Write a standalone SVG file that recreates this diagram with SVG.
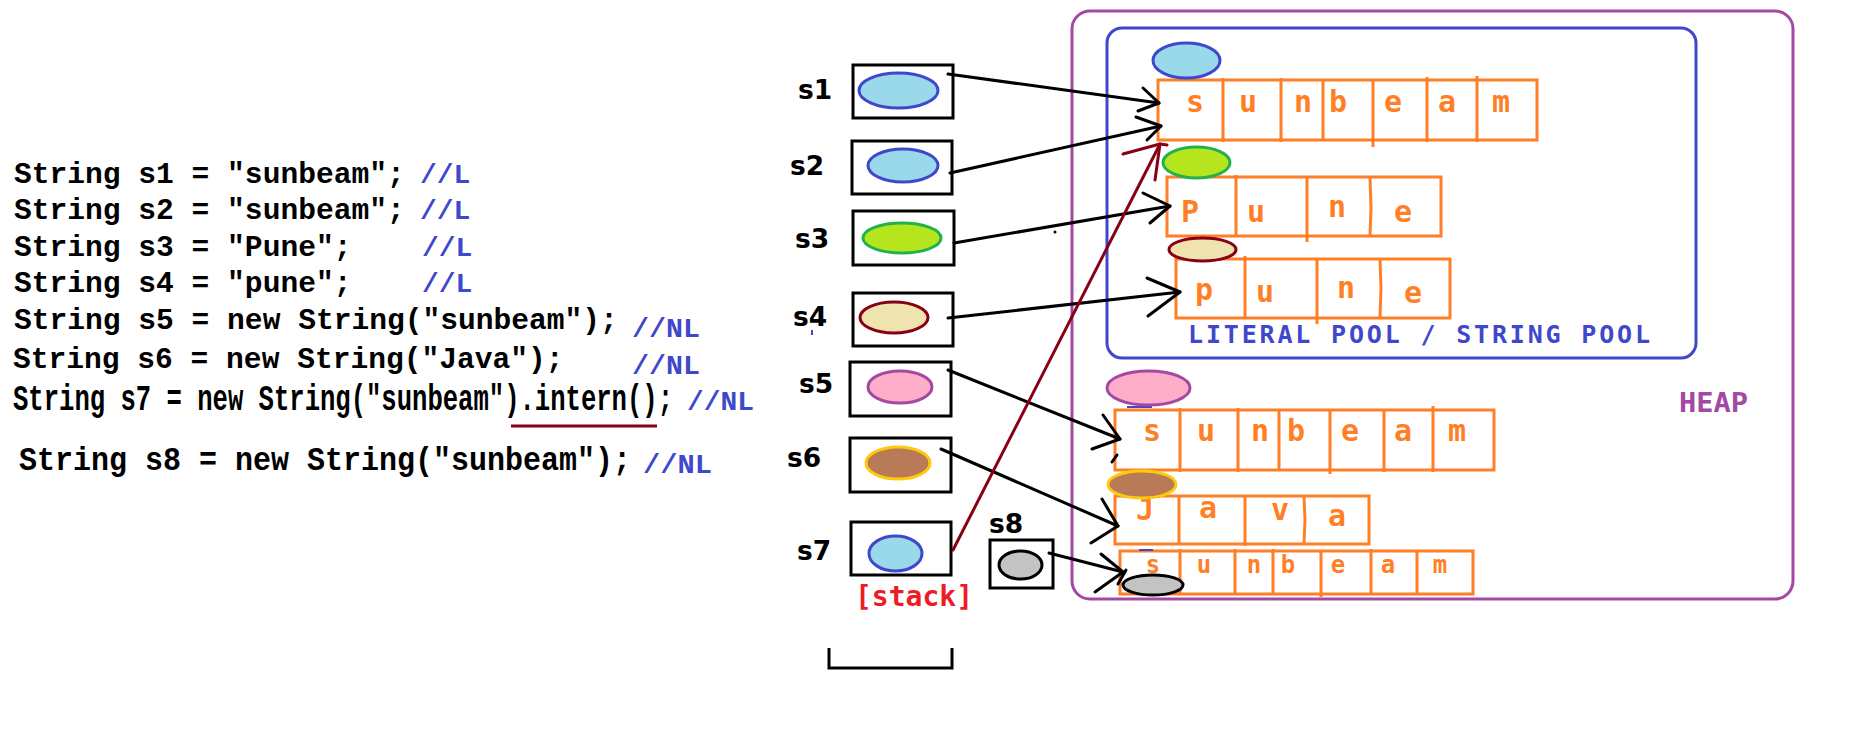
<svg xmlns="http://www.w3.org/2000/svg" width="1852" height="743" viewBox="0 0 1852 743">
  <style>
    .code { font-family: "Liberation Mono", "DejaVu Sans Mono", monospace; font-weight: bold; font-size: 29.6px; fill: #000; }
    .cmt { font-family: "Liberation Mono", "DejaVu Sans Mono", monospace; font-weight: bold; font-size: 28px; fill: #3F48CC; }
    .lbl { font-family: "DejaVu Sans", sans-serif; font-weight: bold; font-size: 26.5px; fill: #000; }
    .slot { fill: none; stroke: #000; stroke-width: 3; }
    .arr { fill: none; stroke: #FF7F27; stroke-width: 3; }
    .ch { font-family: "DejaVu Sans Mono", monospace; font-weight: bold; font-size: 30px; fill: #FF7F27; text-anchor: middle; }
    .ch-sm { font-size: 24px; }
    .ref-blue { fill: #99D9EA; stroke: #3F48CC; stroke-width: 3; }
    .ref-green { fill: #B5E61D; stroke: #22B14C; stroke-width: 3; }
    .ref-beige { fill: #EFE4B0; stroke: #880015; stroke-width: 3; }
    .ref-pink { fill: #FFAEC9; stroke: #A349A4; stroke-width: 3; }
    .ref-brown { fill: #B97A57; stroke: #FFC90E; stroke-width: 3; }
    .ref-gray { fill: #C3C3C3; stroke: #000; stroke-width: 3; }
    .link { fill: none; stroke: #000; stroke-width: 3; stroke-linecap: round; stroke-linejoin: round; }
    .link-red { fill: none; stroke: #880015; stroke-width: 3; stroke-linecap: round; }
    .tick { fill: none; stroke: #3F48CC; stroke-width: 2; }
  </style>

  <rect width="1852" height="743" fill="#fff"/>

  <!-- Java source -->
  <g id="code">
    <text class="code" x="14" y="183">String s1 = "sunbeam";</text>
    <text class="cmt" x="420" y="183">//L</text>
    <text class="code" x="14" y="219">String s2 = "sunbeam";</text>
    <text class="cmt" x="420" y="219">//L</text>
    <text class="code" x="14" y="256">String s3 = "Pune";</text>
    <text class="cmt" x="422" y="256">//L</text>
    <text class="code" x="14" y="292">String s4 = "pune";</text>
    <text class="cmt" x="422" y="292">//L</text>
    <text class="code" x="14" y="329">String s5 = new String("sunbeam");</text>
    <text class="cmt" x="632" y="337" textLength="68" lengthAdjust="spacingAndGlyphs">//NL</text>
    <text class="code" x="13" y="368">String s6 = new String("Java");</text>
    <text class="cmt" x="632" y="374" textLength="68" lengthAdjust="spacingAndGlyphs">//NL</text>
    <text class="code" x="13" y="410" style="font-size:36px" textLength="660" lengthAdjust="spacingAndGlyphs">String s7 = new String("sunbeam").intern();</text>
    <text class="cmt" x="687" y="410" textLength="67" lengthAdjust="spacingAndGlyphs">//NL</text>
    <line x1="511" y1="426" x2="657" y2="426" stroke="#880015" stroke-width="3"/>
    <text class="code" x="19" y="470" style="font-size:33px" textLength="612" lengthAdjust="spacingAndGlyphs">String s8 = new String("sunbeam");</text>
    <text class="cmt" x="643" y="473" textLength="69" lengthAdjust="spacingAndGlyphs">//NL</text>
  </g>

  <!-- heap area and string pool -->
  <g id="heap">
    <rect x="1072" y="11" width="721" height="588" rx="18" fill="none" stroke="#A349A4" stroke-width="3"/>
    <text x="1679" y="412" font-family="DejaVu Sans Mono, monospace" font-weight="bold" font-size="27" fill="#A349A4" textLength="69" lengthAdjust="spacingAndGlyphs">HEAP</text>
  </g>
  <g id="string-pool">
    <rect x="1107" y="28" width="589" height="330" rx="15" fill="none" stroke="#3F48CC" stroke-width="3"/>
    <text x="1188" y="343" font-family="DejaVu Sans Mono, monospace" font-weight="bold" font-size="25" fill="#3F48CC" textLength="462" lengthAdjust="spacing">LITERAL POOL / STRING POOL</text>
  </g>

  <!-- stack slots -->
  <g id="stack">
    <text x="855" y="606" font-family="DejaVu Sans Mono, monospace" font-weight="bold" font-size="28" fill="#ED1C24" textLength="118" lengthAdjust="spacingAndGlyphs">[stack]</text>
    <polyline points="829,648 829,668 952,668 952,648" fill="none" stroke="#000" stroke-width="3"/>
  </g>
  <g id="s1">
    <text class="lbl" x="798" y="99">s1</text>
    <rect class="slot" x="853" y="65" width="100" height="53" stroke-width="2.6"/>
    <ellipse class="ref-blue" cx="898.5" cy="90.5" rx="39.5" ry="17.5"/>
  </g>
  <g id="s2">
    <text class="lbl" x="790" y="175">s2</text>
    <rect class="slot" x="852" y="141" width="100" height="53" stroke-width="3.2"/>
    <ellipse class="ref-blue" cx="903" cy="165.5" rx="35" ry="16.5"/>
  </g>
  <g id="s3">
    <text class="lbl" x="795" y="248">s3</text>
    <rect class="slot" x="853" y="211" width="101" height="54"/>
    <ellipse class="ref-green" cx="902" cy="238" rx="39" ry="15"/>
  </g>
  <g id="s4">
    <text class="lbl" x="793" y="326">s4</text>
    <line class="tick" x1="812" y1="330" x2="812" y2="335"/>
    <rect class="slot" x="853" y="293" width="100" height="53" stroke-width="2.6"/>
    <ellipse class="ref-beige" cx="894" cy="317.5" rx="34" ry="15.5"/>
  </g>
  <g id="s5">
    <text class="lbl" x="799" y="393">s5</text>
    <rect class="slot" x="850" y="362" width="101" height="54" stroke-width="3.4"/>
    <ellipse class="ref-pink" cx="900" cy="387" rx="32" ry="16"/>
  </g>
  <g id="s6">
    <text class="lbl" x="787" y="467">s6</text>
    <rect class="slot" x="850" y="438" width="101" height="54" stroke-width="3.4"/>
    <ellipse class="ref-brown" cx="898" cy="463" rx="32" ry="16"/>
  </g>
  <g id="s7">
    <text class="lbl" x="797" y="560">s7</text>
    <rect class="slot" x="851" y="522" width="100" height="53"/>
    <ellipse class="ref-blue" cx="895.5" cy="553.5" rx="26.5" ry="17.5"/>
  </g>
  <g id="s8">
    <text class="lbl" x="989" y="533">s8</text>
    <rect class="slot" x="990" y="540" width="63" height="48" stroke-width="3.6"/>
    <ellipse class="ref-gray" cx="1020.5" cy="565" rx="21.5" ry="14"/>
  </g>

  <!-- pool: "sunbeam" -->
  <g id="pool-sunbeam">
    <rect class="arr" x="1158" y="80" width="379" height="60"/>
    <path class="arr" d="M1223 78V142 M1281 78V142 M1323 80V140 M1373 80V147 M1427 77V142 M1477 76V142"/>
    <text class="ch" y="112"><tspan x="1195">s</tspan><tspan x="1248">u</tspan><tspan x="1303">n</tspan><tspan x="1338">b</tspan><tspan x="1393">e</tspan><tspan x="1447">a</tspan><tspan x="1501">m</tspan></text>
    <ellipse class="ref-blue" cx="1186.5" cy="60.5" rx="33.5" ry="17.5"/>
  </g>
  <!-- pool: "Pune" -->
  <g id="pool-Pune">
    <rect class="arr" x="1167" y="177" width="274" height="59"/>
    <path class="arr" d="M1236 175V236 M1307 177V242 M1370 177L1371 208L1370 236"/>
    <text class="ch"><tspan x="1190" y="222">P</tspan><tspan x="1256" y="222">u</tspan><tspan x="1337" y="217">n</tspan><tspan x="1403" y="222">e</tspan></text>
    <ellipse class="ref-green" cx="1196.5" cy="162.5" rx="33.5" ry="15.5"/>
  </g>
  <!-- pool: "pune" -->
  <g id="pool-pune">
    <rect class="arr" x="1176" y="259" width="274" height="59"/>
    <path class="arr" d="M1245 256V318 M1317 259V324 M1380 259L1381 288L1380 318"/>
    <text class="ch"><tspan x="1204" y="300">p</tspan><tspan x="1265" y="302">u</tspan><tspan x="1346" y="298">n</tspan><tspan x="1413" y="303">e</tspan></text>
    <path d="M1184 256Q1203 264 1222 256" fill="none" stroke="#22B14C" stroke-width="3"/>
    <ellipse class="ref-beige" cx="1202.5" cy="249.5" rx="33.5" ry="11.5"/>
  </g>

  <!-- heap: new String("sunbeam") -->
  <g id="heap-sunbeam">
    <rect class="arr" x="1115" y="410" width="379" height="60"/>
    <path class="arr" d="M1180 408V472 M1238 408V472 M1279 410V470 M1330 410V474 M1384 410V472 M1433 406V472"/>
    <text class="ch" y="441"><tspan x="1152">s</tspan><tspan x="1206">u</tspan><tspan x="1260">n</tspan><tspan x="1296">b</tspan><tspan x="1350">e</tspan><tspan x="1403">a</tspan><tspan x="1457">m</tspan></text>
    <line class="tick" x1="1127" y1="407" x2="1152" y2="407"/>
    <ellipse class="ref-pink" cx="1148.5" cy="388" rx="41.5" ry="17"/>
  </g>
  <!-- heap: new String("Java") -->
  <g id="heap-Java">
    <rect class="arr" x="1115" y="496" width="254" height="48"/>
    <path class="arr" d="M1179 496V544 M1245 496V546 M1304 496L1305 520L1304 544"/>
    <text class="ch"><tspan x="1145" y="520">J</tspan><tspan x="1208" y="518">a</tspan><tspan x="1280" y="520">v</tspan><tspan x="1337" y="526">a</tspan></text>
    <line x1="1124" y1="496" x2="1160" y2="496" stroke="#880015" stroke-width="3"/>
    <ellipse class="ref-brown" cx="1142" cy="484.5" rx="34" ry="13.5"/>
  </g>
  <!-- heap: s8's "sunbeam" -->
  <g id="heap-sunbeam-2">
    <rect class="arr" x="1120" y="551" width="353" height="43"/>
    <path class="arr" d="M1180 549V594 M1235 549V594 M1273 549V594 M1321 551V597 M1371 549V594 M1417 551V594"/>
    <line class="tick" x1="1139" y1="550" x2="1153" y2="550"/>
    <text class="ch ch-sm" y="573"><tspan x="1153">s</tspan><tspan x="1204">u</tspan><tspan x="1254">n</tspan><tspan x="1288">b</tspan><tspan x="1338">e</tspan><tspan x="1388">a</tspan><tspan x="1440">m</tspan></text>
    <ellipse class="ref-gray" cx="1153" cy="585" rx="30" ry="10"/>
  </g>

  <!-- references from the stack to the string objects -->
  <g id="connectors">
    <line class="link" x1="948" y1="74" x2="1159" y2="103"/>
    <polyline class="link" points="1143,88 1159,103 1138,111"/>
    <line class="link" x1="950" y1="173" x2="1161" y2="126"/>
    <polyline class="link" points="1136,117 1161,126 1147,140"/>
    <line class="link" x1="954" y1="243" x2="1170" y2="206"/>
    <polyline class="link" points="1143,193 1170,206 1150,223"/>
    <line class="link" x1="948" y1="318" x2="1180" y2="292"/>
    <polyline class="link" points="1147,278 1180,292 1148,316"/>
    <line class="link" x1="948" y1="370" x2="1120" y2="439"/>
    <polyline class="link" points="1103,415 1120,439 1092,449"/>
    <line class="link" x1="1112" y1="462" x2="1117" y2="455"/>
    <line class="link" x1="941" y1="449" x2="1118" y2="526"/>
    <polyline class="link" points="1102,499 1118,526 1091,543"/>
    <line class="link" x1="1049" y1="553" x2="1123" y2="572"/>
    <polyline class="link" points="1101,554 1123,572 1095,592"/>
    <line class="link" x1="1118" y1="584" x2="1126" y2="570"/>
    <line class="link-red" x1="953" y1="550" x2="1160" y2="144"/>
    <path class="link-red" d="M1160 144L1123 154 M1160 144L1167 145 M1160 144L1155 180"/>
    <circle cx="1055" cy="232" r="1.5" fill="#000"/>
  </g>
</svg>
